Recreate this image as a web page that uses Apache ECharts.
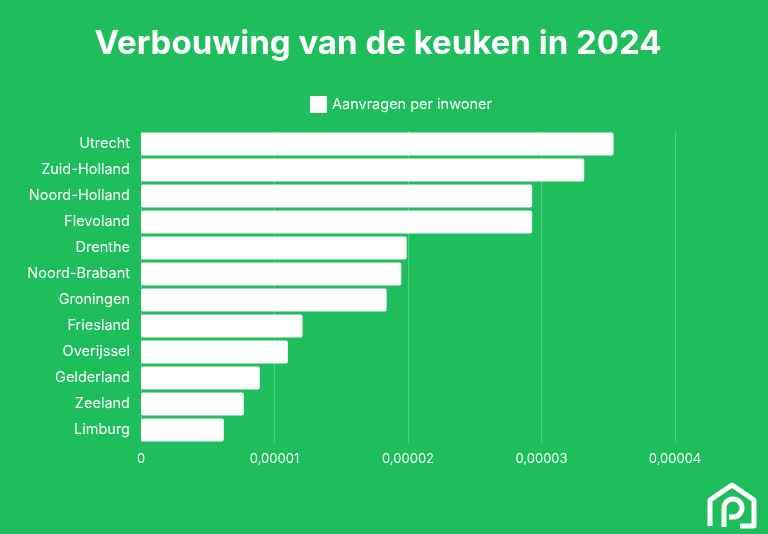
<!DOCTYPE html>
<html>
<head>
<meta charset="utf-8">
<script src="https://cdn.jsdelivr.net/npm/echarts@6/dist/echarts.min.js"></script>
<style>
  html, body { margin: 0; padding: 0; background: #1fbe5c; }
  #chart { width: 768px; height: 534px; }
</style>
</head>
<body>
<div id="chart"></div>
<script>
  // provincies, van boven naar beneden zoals in het plaatje
  const provinces = ['Utrecht', 'Zuid-Holland', 'Noord-Holland', 'Flevoland', 'Drenthe', 'Noord-Brabant',
    'Groningen', 'Friesland', 'Overijssel', 'Gelderland', 'Zeeland', 'Limburg']
  const perInwoner = [0.0000354, 0.0000332, 0.0000293, 0.0000293, 0.0000199, 0.0000195,
    0.0000184, 0.0000121, 0.0000110, 0.0000089, 0.0000077, 0.0000062]
  const seriesName = 'Aanvragen per inwoner'

  const chart = echarts.init(document.getElementById('chart'))
  const font = 'Inter, "Open Sans", sans-serif'

  let option = {
    backgroundColor: '#1fbe5c',
    textStyle: { fontFamily: font },
    title: {
      text: 'Verbouwing van de keuken in 2024',
      left: 373,
      textAlign: 'center',
      top: 23,
      textStyle: { color: '#fff', fontSize: 33, fontWeight: 'bold', fontFamily: font }
    },
    legend: {
      top: 91,
      left: 305,
      itemWidth: 17,
      itemHeight: 17,
      itemGap: 10,
      icon: 'rect',
      textStyle: { color: '#fff', fontSize: 14.5, fontFamily: font },
      data: [seriesName]
    },
    grid: {
      left: 141,
      right: 93,
      top: 131,
      bottom: 91,
      containLabel: false
    },
    xAxis: {
      type: 'value',
      min: 0,
      max: 0.00004,
      interval: 0.00001,
      axisLine: { show: false },
      axisTick: { show: false },
      splitLine: { lineStyle: { color: 'rgba(255,255,255,0.25)', width: 1 } },
      axisLabel: {
        color: '#fff',
        fontSize: 13,
        margin: 10,
        formatter: v => v === 0 ? '0' : v.toFixed(5).replace('.', ',')
      }
    },
    yAxis: {
      type: 'category',
      inverse: true,
      data: provinces,
      axisLine: { show: false },
      axisTick: { show: false },
      axisLabel: { color: '#fff', fontSize: 14.5, margin: 11 }
    },
    series: [
      {
        name: seriesName,
        type: 'bar',
        data: perInwoner,
        barWidth: '88%',
        itemStyle: { color: '#fff', borderRadius: 2 },
        emphasis: { disabled: true }
      }
    ],
    graphic: [
      {
        type: 'group',
        x: 706,
        y: 482,
        children: [
          {
            // huisje van het logo
            type: 'polyline',
            shape: { points: [[4, 44], [4, 18], [26, 3], [48, 18], [48, 44], [34, 44]] },
            style: { stroke: '#fff', lineWidth: 5, fill: null, lineJoin: 'round' }
          },
          {
            type: 'line',
            shape: { x1: 18, y1: 45, x2: 18, y2: 26 },
            style: { stroke: '#fff', lineWidth: 5 }
          },
          {
            type: 'arc',
            shape: { cx: 27, cy: 26, r: 9, startAngle: Math.PI, endAngle: Math.PI / 2, clockwise: true },
            style: { stroke: '#fff', lineWidth: 5, fill: null }
          },
          {
            type: 'line',
            shape: { x1: 27, y1: 35, x2: 23, y2: 35 },
            style: { stroke: '#fff', lineWidth: 5 }
          }
        ]
      }
    ]
  }
  chart.setOption(option)
</script>
</body>
</html>
